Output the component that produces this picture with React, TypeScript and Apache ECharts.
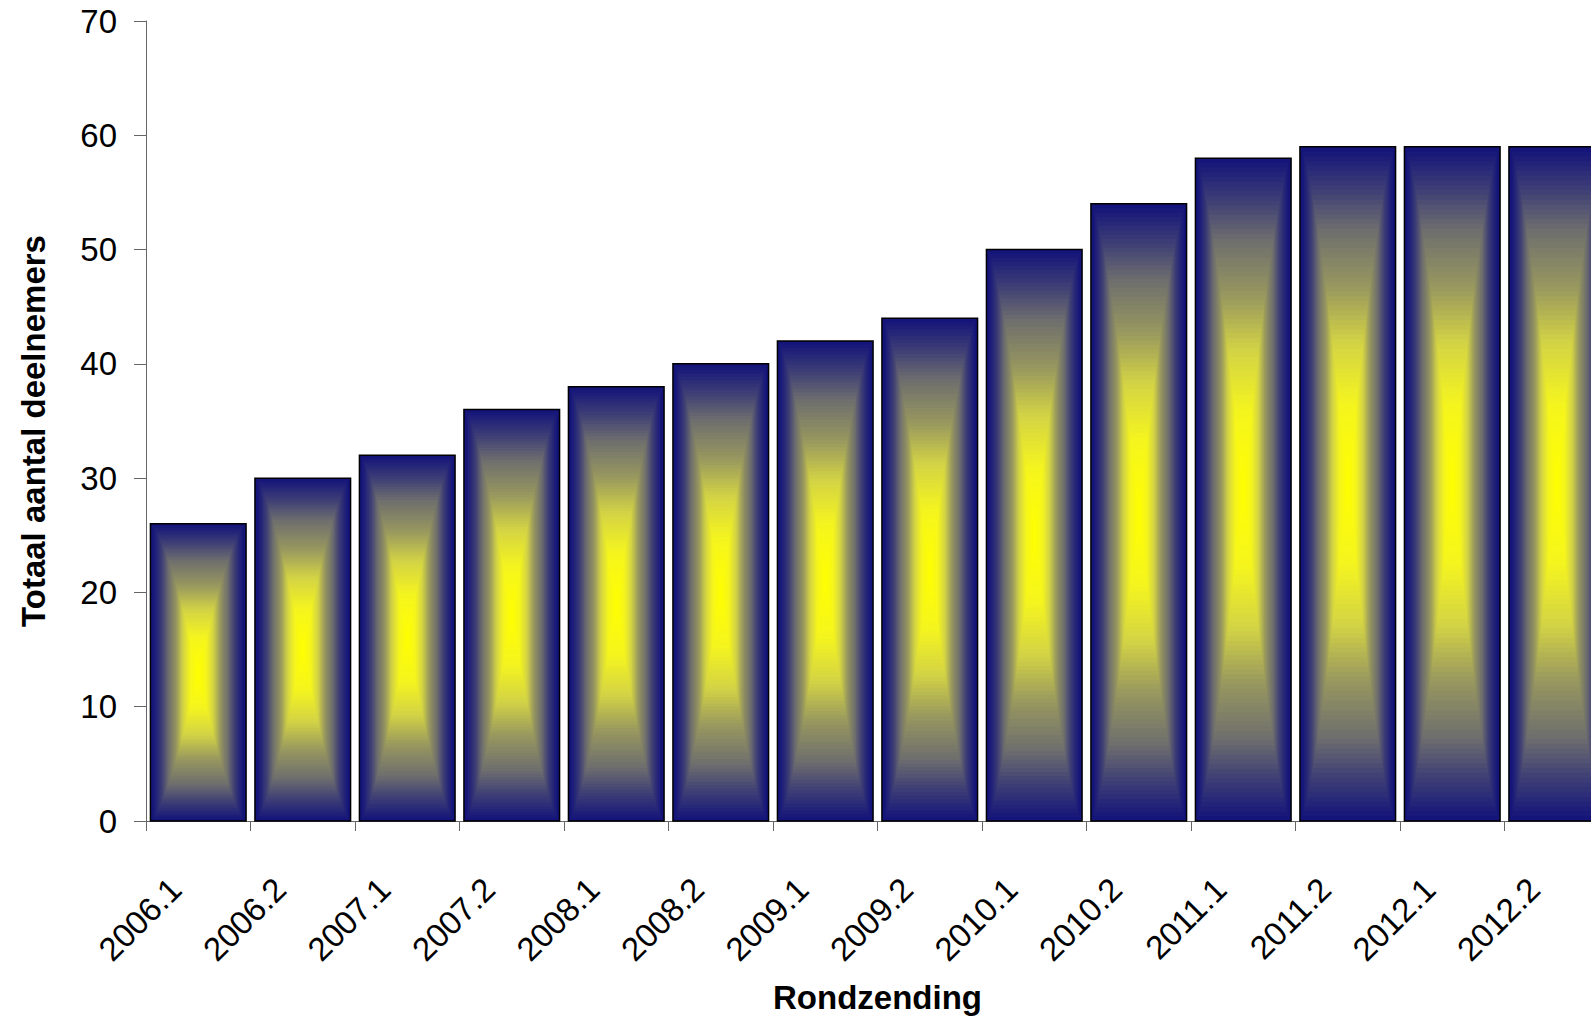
import React, { useEffect, useRef } from "react";
import * as echarts from "echarts";

const categories = [
  "2006.1", "2006.2", "2007.1", "2007.2", "2008.1", "2008.2", "2009.1",
  "2009.2", "2010.1", "2010.2", "2011.1", "2011.2", "2012.1", "2012.2",
];
const values = [26, 30, 32, 36, 38, 40, 42, 44, 50, 54, 58, 59, 59, 59];
const yAxisTitle = "Totaal aantal deelnemers";
const xAxisTitle = "Rondzending";

const FONT = "'Liberation Sans', Arial, Helvetica, sans-serif";

// gradient stops from outer edge (t=0) to centre (t=1)
const stops: [number, number[]][] = [
  [0, [20, 20, 122]],
  [0.12, [62, 62, 118]],
  [0.24, [110, 110, 110]],
  [0.41, [152, 152, 95]],
  [0.57, [210, 210, 70]],
  [0.76, [245, 245, 30]],
  [1, [255, 255, 0]],
];

function colorAt(t: number): string {
  for (let i = 0; i < stops.length - 1; i++) {
    const [t0, c0] = stops[i];
    const [t1, c1] = stops[i + 1];
    if (t >= t0 && t <= t1) {
      const f = (t - t0) / (t1 - t0);
      const c = c0.map((v, k) => Math.round(v + (c1[k] - v) * f));
      return `rgb(${c[0]},${c[1]},${c[2]})`;
    }
  }
  const c = stops[stops.length - 1][1];
  return `rgb(${c[0]},${c[1]},${c[2]})`;
}

export default function App() {
  const ref = useRef<HTMLDivElement>(null);

  useEffect(() => {
    if (!ref.current) return;
    const chart = echarts.init(ref.current, undefined, { renderer: "svg" });
    const STEPS = 70;
    chart.setOption({
      animation: false,
      backgroundColor: "#ffffff",
      grid: { left: 146, top: 21, bottom: 197, right: 16, containLabel: false },
      xAxis: {
        type: "category",
        data: categories,
        boundaryGap: true,
        name: xAxisTitle,
        nameLocation: "middle",
        nameGap: 160,
        nameTextStyle: { fontFamily: FONT, fontSize: 33, fontWeight: "bold", color: "#000" },
        axisLine: { show: true, lineStyle: { color: "#666", width: 1 } },
        axisTick: { show: true, alignWithLabel: false, length: 10, lineStyle: { color: "#666" } },
        axisLabel: {
          interval: 0,
          rotate: 45,
          margin: 40,
          padding: [0, 32, 0, 0],
          fontFamily: FONT,
          fontSize: 33,
          color: "#000",
        },
        splitLine: { show: false },
      },
      yAxis: {
        type: "value",
        min: 0,
        max: 70,
        interval: 10,
        name: yAxisTitle,
        nameLocation: "middle",
        nameRotate: 90,
        nameGap: 96,
        nameTextStyle: {
          fontFamily: FONT,
          fontSize: 33,
          fontWeight: "bold",
          color: "#000",
          padding: [0, 20, 0, 0],
        },
        axisLine: { show: true, lineStyle: { color: "#666", width: 1 } },
        axisTick: { show: true, length: 12, lineStyle: { color: "#666" } },
        axisLabel: { margin: 29, fontFamily: FONT, fontSize: 33, color: "#000" },
        splitLine: { show: false },
      },
      series: [
        {
          type: "custom",
          data: values.map((v, i) => [i, v]),
          encode: { x: 0, y: 1 },
          clip: false,
          renderItem: (params: any, api: any) => {
            const idx = api.value(0);
            const val = api.value(1);
            const top = api.coord([idx, val]);
            const base = api.coord([idx, 0]);
            const bw = api.size([1, 0])[0] * 0.915;
            const h = base[1] - top[1];
            const cx = top[0];
            const cy = top[1] + h / 2;
            const children: any[] = [];
            for (let i = 0; i < STEPS; i++) {
              const t = i / STEPS;
              const a = Math.pow(t, 0.7);
              const w = bw * (1 - a);
              const hh = h * (1 - t);
              children.push({
                type: "rect",
                shape: { x: cx - w / 2, y: cy - hh / 2, width: w, height: hh },
                style: { fill: colorAt(t), stroke: null },
                silent: true,
              });
            }
            children.push({
              type: "rect",
              shape: { x: cx - bw / 2, y: top[1], width: bw, height: h },
              style: { fill: "none", stroke: "#000", lineWidth: 1.5 },
              silent: true,
            });
            return { type: "group", children };
          },
        },
      ],
    });
    return () => chart.dispose();
  }, []);

  return (
    <div
      style={{
        position: "fixed",
        left: 0,
        top: 0,
        width: 1591,
        height: 1019,
        overflow: "hidden",
        background: "#fff",
      }}
    >
      <div ref={ref} style={{ width: 1625, height: 1019 }} />
    </div>
  );
}
